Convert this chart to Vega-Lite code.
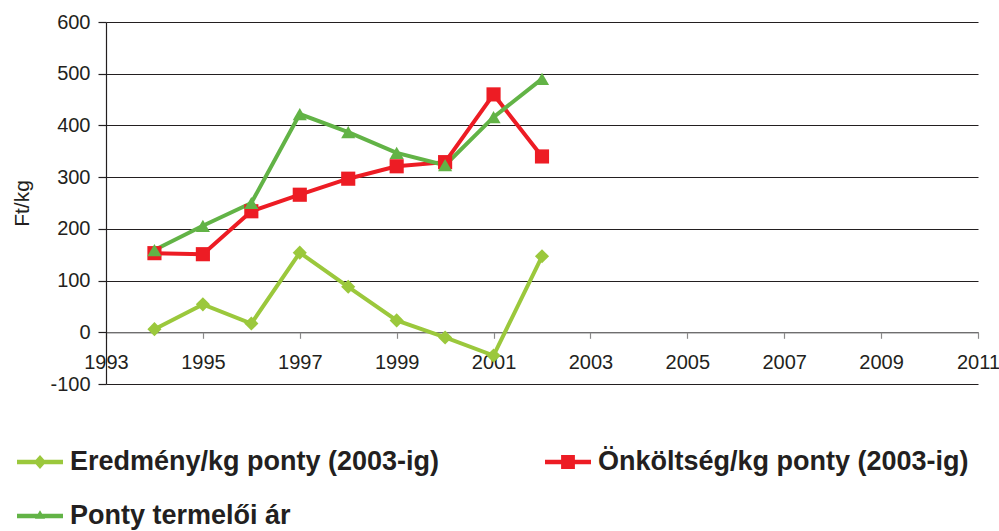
{
  "$schema": "https://vega.github.io/schema/vega-lite/v6.json",
  "width": 872,
  "height": 362,
  "autosize": {"type": "none"},
  "padding": {"left": 106, "top": 22, "right": 21, "bottom": 147},
  "background": "white",
  "config": {"view": {"stroke": null}, "font": "Liberation Sans"},
  "data": {
    "values": [
      {"year": 1994, "series": "Eredmény/kg ponty (2003-ig)", "value": 6},
      {"year": 1995, "series": "Eredmény/kg ponty (2003-ig)", "value": 54},
      {"year": 1996, "series": "Eredmény/kg ponty (2003-ig)", "value": 17},
      {"year": 1997, "series": "Eredmény/kg ponty (2003-ig)", "value": 154},
      {"year": 1998, "series": "Eredmény/kg ponty (2003-ig)", "value": 88},
      {"year": 1999, "series": "Eredmény/kg ponty (2003-ig)", "value": 23},
      {"year": 2000, "series": "Eredmény/kg ponty (2003-ig)", "value": -10},
      {"year": 2001, "series": "Eredmény/kg ponty (2003-ig)", "value": -45},
      {"year": 2002, "series": "Eredmény/kg ponty (2003-ig)", "value": 147},
      {"year": 1994, "series": "Önköltség/kg ponty (2003-ig)", "value": 153},
      {"year": 1995, "series": "Önköltség/kg ponty (2003-ig)", "value": 151},
      {"year": 1996, "series": "Önköltség/kg ponty (2003-ig)", "value": 234},
      {"year": 1997, "series": "Önköltség/kg ponty (2003-ig)", "value": 266},
      {"year": 1998, "series": "Önköltség/kg ponty (2003-ig)", "value": 297},
      {"year": 1999, "series": "Önköltség/kg ponty (2003-ig)", "value": 321},
      {"year": 2000, "series": "Önköltség/kg ponty (2003-ig)", "value": 329},
      {"year": 2001, "series": "Önköltség/kg ponty (2003-ig)", "value": 460},
      {"year": 2002, "series": "Önköltség/kg ponty (2003-ig)", "value": 340},
      {"year": 1994, "series": "Ponty termelői ár", "value": 159},
      {"year": 1995, "series": "Ponty termelői ár", "value": 206},
      {"year": 1996, "series": "Ponty termelői ár", "value": 250},
      {"year": 1997, "series": "Ponty termelői ár", "value": 422},
      {"year": 1998, "series": "Ponty termelői ár", "value": 387},
      {"year": 1999, "series": "Ponty termelői ár", "value": 347},
      {"year": 2000, "series": "Ponty termelői ár", "value": 323},
      {"year": 2001, "series": "Ponty termelői ár", "value": 416},
      {"year": 2002, "series": "Ponty termelői ár", "value": 490}
    ]
  },
  "encoding": {
    "x": {
      "field": "year",
      "type": "quantitative",
      "scale": {"domain": [1993, 2011], "nice": false, "zero": false},
      "axis": {
        "title": null,
        "values": [1993, 1995, 1997, 1999, 2001, 2003, 2005, 2007, 2009, 2011],
        "format": "d",
        "offset": -51.7,
        "grid": false,
        "domainColor": "#8a8a8a",
        "domainWidth": 1.2,
        "tickColor": "#8a8a8a",
        "tickWidth": 1.2,
        "tickSize": 6,
        "labelFont": "Liberation Sans",
        "labelFontSize": 20,
        "labelColor": "#231F20",
        "labelPadding": 14,
        "labelOverlap": false,
        "labelBound": false,
        "labelFlush": false
      }
    },
    "y": {
      "field": "value",
      "type": "quantitative",
      "scale": {"domain": [-100, 600], "nice": false},
      "axis": {
        "title": "Ft/kg",
        "titleFont": "Liberation Sans",
        "titleFontSize": 21,
        "titleFontWeight": "normal",
        "titleColor": "#231F20",
        "titlePadding": 17,
        "values": [-100, 0, 100, 200, 300, 400, 500, 600],
        "labelExpr": "'' + datum.value",
        "grid": true,
        "gridColor": "#231F20",
        "gridWidth": 1.2,
        "domainColor": "#231F20",
        "domainWidth": 1.2,
        "tickColor": "#231F20",
        "tickWidth": 1.2,
        "tickSize": 8,
        "labelFont": "Liberation Sans",
        "labelFontSize": 20,
        "labelColor": "#231F20",
        "labelPadding": 8
      }
    }
  },
  "layer": [
    {
      "mark": {"type": "line", "strokeWidth": 4},
      "encoding": {
        "color": {
          "field": "series",
          "type": "nominal",
          "scale": {
            "domain": ["Eredmény/kg ponty (2003-ig)", "Önköltség/kg ponty (2003-ig)", "Ponty termelői ár"],
            "range": ["#9BC83C", "#ED1C24", "#62B346"]
          },
          "legend": {
            "title": null,
            "orient": "none",
            "direction": "horizontal",
            "legendX": -89,
            "legendY": 417,
            "columns": 2,
            "columnPadding": 105,
            "rowPadding": 18,
            "padding": 0,
            "values": ["Eredmény/kg ponty (2003-ig)", "Önköltség/kg ponty (2003-ig)", "Ponty termelői ár"],
            "symbolSize": 2116,
            "labelFont": "Liberation Sans",
            "labelFontSize": 27,
            "labelFontWeight": "bold",
            "labelColor": "#231F20",
            "labelOffset": 7,
            "labelLimit": 700,
            "encode": {
              "symbols": {
                "update": {
                  "shape": {"signal": "datum.value === 'Eredmény/kg ponty (2003-ig)' ? 'M-1,-0.1L1,-0.1L1,0.1L-1,0.1Z M0,-0.3L0.27,0L0,0.3L-0.27,0Z' : datum.value === 'Önköltség/kg ponty (2003-ig)' ? 'M-1,-0.1L1,-0.1L1,0.1L-1,0.1Z M-0.3,-0.3L0.3,-0.3L0.3,0.3L-0.3,0.3Z' : 'M-1,-0.1L1,-0.1L1,0.1L-1,0.1Z M0,-0.25L0.22,0.12L-0.22,0.12Z'"},
                  "fill": {"signal": "datum.value === 'Eredmény/kg ponty (2003-ig)' ? '#9BC83C' : datum.value === 'Önköltség/kg ponty (2003-ig)' ? '#ED1C24' : '#62B346'"},
                  "fillOpacity": {"value": 1},
                  "strokeWidth": {"value": 0},
                  "opacity": {"value": 1}
                }
              }
            }
          }
        }
      }
    },
    {
      "mark": {"type": "point", "filled": true, "opacity": 1, "strokeWidth": 0},
      "encoding": {
        "color": {
          "field": "series",
          "type": "nominal",
          "scale": {
            "domain": ["Eredmény/kg ponty (2003-ig)", "Önköltség/kg ponty (2003-ig)", "Ponty termelői ár"],
            "range": ["#9BC83C", "#ED1C24", "#62B346"]
          },
          "legend": null
        },
        "shape": {
          "field": "series",
          "type": "nominal",
          "scale": {
            "domain": ["Eredmény/kg ponty (2003-ig)", "Önköltség/kg ponty (2003-ig)", "Ponty termelői ár"],
            "range": ["diamond", "square", "triangle-up"]
          },
          "legend": null
        },
        "size": {
          "field": "series",
          "type": "nominal",
          "scale": {
            "domain": ["Eredmény/kg ponty (2003-ig)", "Önköltség/kg ponty (2003-ig)", "Ponty termelői ár"],
            "range": [200, 200, 130]
          },
          "legend": null
        }
      }
    }
  ],
  "resolve": {
    "scale": {"color": "independent", "shape": "independent", "size": "independent"},
    "legend": {"color": "independent", "shape": "independent", "size": "independent"}
  }
}
